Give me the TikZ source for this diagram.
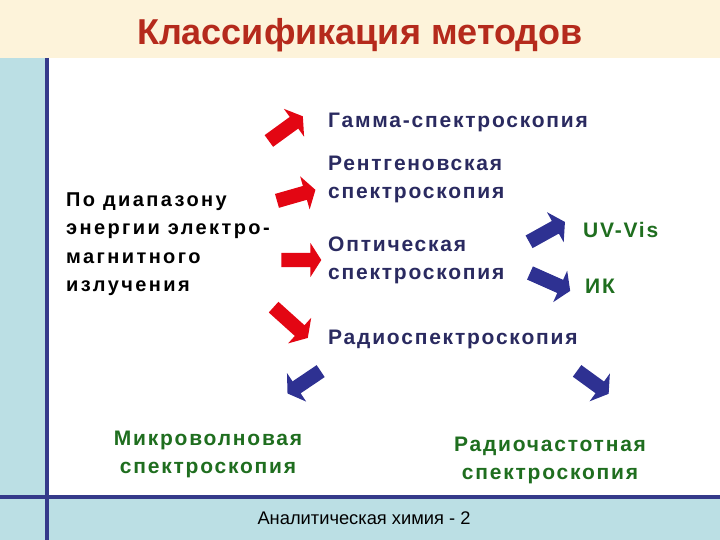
\documentclass[tikz,border=0pt]{standalone}
\usepackage{fontspec}
\setmainfont{Liberation Sans}
\newfontfamily\lsp[LetterSpace=8.5]{Liberation Sans}
\newfontfamily\lspw[LetterSpace=12]{Liberation Sans}
\usetikzlibrary{shapes.arrows}
\definecolor{cream}{HTML}{FDF3DA}
\definecolor{lblue}{HTML}{BBDFE4}
\definecolor{navyline}{HTML}{353A8A}
\definecolor{titlered}{HTML}{B52A1C}
\definecolor{txtnavy}{HTML}{2A2A60}
\definecolor{dgreen}{HTML}{1F6E1F}
\definecolor{arrred}{HTML}{E30613}
\definecolor{arrblue}{HTML}{2E3192}
\tikzset{
  blockarrow/.style={single arrow, draw=none, inner sep=0pt, inner ysep=7pt,
    single arrow head extend=10pt, single arrow tip angle=115, single arrow head indent=0pt, anchor=center},
  redarrow/.style={blockarrow, fill=arrred},
  bluearrow/.style={blockarrow, fill=arrblue},
  lbl/.style={font=\lsp\bfseries\fontsize{21}{28}\selectfont, text=txtnavy, anchor=base west, inner sep=0pt, align=left},
  glbl/.style={font=\lsp\bfseries\fontsize{21}{28}\selectfont, text=dgreen, inner sep=0pt, align=center, anchor=base},
}
\begin{document}
\begin{tikzpicture}[x=1pt,y=-1pt]
\useasboundingbox (0,0) rectangle (720,540);
% backgrounds
\fill[white] (0,0) rectangle (720,540);
\fill[cream] (0,0) rectangle (720,58);
\fill[lblue] (0,58) rectangle (47,540);
\fill[lblue] (0,497) rectangle (720,540);
\draw[navyline, line width=4pt] (47,58) -- (47,540);
\draw[navyline, line width=4pt] (0,497) -- (720,497);
% title
\node[font=\bfseries\fontsize{36}{40}\selectfont, text=titlered, anchor=base, inner sep=0pt] (title) at (360,45) {Классификация методов};
% footer
\node[font=\fontsize{18.3}{22}\selectfont, text=black, anchor=base, inner sep=0pt] (footer) at (364,524) {Аналитическая химия - 2};
% left text (base anchor = last line)
\node[font=\lspw\bfseries\fontsize{20}{28.5}\selectfont, text=black, anchor=base west, inner sep=0pt, align=left] (src) at (66,291.5)
  {По диапазону\\энергии электро-\\магнитного\\излучения};
% labels
\node[lbl] (gamma) at (328,128) {Гамма-спектроскопия};
\node[lbl] (xray) at (328,199) {Рентгеновская\\спектроскопия};
\node[lbl] (opt) at (328,279) {Оптическая\\спектроскопия};
\node[lbl] (radio) at (328,344) {Радиоспектроскопия};
\node[lbl, text=dgreen] (uv) at (583,237) {UV-Vis};
\node[lbl, text=dgreen] (ir) at (585,293) {ИК};
\node[glbl] (mw) at (208,473) {Микроволновая\\спектроскопия};
\node[glbl] (rf) at (550,479) {Радиочастотная\\спектроскопия};
% red arrows
\node[redarrow, minimum height=42pt, rotate=36] (a1) at (284,130) {};
\node[redarrow, minimum height=40pt, rotate=16] (a2) at (294,196) {};
\node[redarrow, minimum height=40pt, rotate=0] (a3) at (299,260) {};
\node[redarrow, minimum height=46pt, rotate=-42] (a4) at (289,321) {};
% blue arrows
\node[bluearrow, minimum height=41pt, rotate=29] (b1) at (545,233) {};
\node[bluearrow, minimum height=44pt, rotate=-24] (b2) at (548,281) {};
\node[bluearrow, minimum height=40pt, rotate=214] (b3) at (306,381) {};
\node[bluearrow, minimum height=39pt, rotate=-36] (b4) at (591,381) {};
\end{tikzpicture}
\end{document}
